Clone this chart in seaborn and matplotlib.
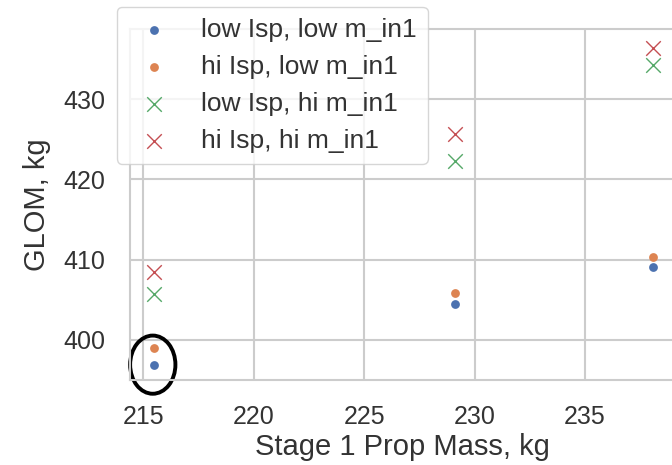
import numpy as np
import pandas as pd
import matplotlib
matplotlib.use('Agg')
import seaborn as sns
import matplotlib.pyplot as plt
from matplotlib.patches import Ellipse

sns.set_theme(style="whitegrid")
plt.rcParams['font.family'] = ['Liberation Sans', 'DejaVu Sans']

# stage 1 propellant mass for the three cases
prop_mass = [215.5, 229.1, 238.1]
labels = ["low Isp, low m_in1", "hi Isp, low m_in1",
          "low Isp, hi m_in1", "hi Isp, hi m_in1"]
glom_low_low = [396.8, 404.5, 409.1]
glom_hi_low = [399.0, 405.8, 410.3]
glom_low_hi = [405.7, 422.3, 434.3]
glom_hi_hi = [408.5, 425.7, 436.4]

series = [glom_low_low, glom_hi_low, glom_low_hi, glom_hi_hi]
markers = ["o", "o", "x", "x"]
sizes = [40, 40, 110, 110]
colors = sns.color_palette("deep")[:4]

fig = plt.figure(figsize=(6.72, 4.65), dpi=100)
ax = fig.add_axes([0.1935, 0.183, 0.81, 0.754])

for lab, vals, m, s, c in zip(labels, series, markers, sizes, colors):
    df = pd.DataFrame({"x": prop_mass, "y": vals})
    if m == "o":
        sns.scatterplot(data=df, x="x", y="y", ax=ax, marker=m, s=s,
                        color=c, linewidth=0, label=lab)
    else:
        sns.scatterplot(data=df, x="x", y="y", ax=ax, marker=m, s=s,
                        color=c, linewidth=1.0, label=lab)

ax.set_xlim(214.4, 239.05)
ax.set_ylim(395.0, 438.7)
ax.set_xticks([215, 220, 225, 230, 235])
ax.set_yticks([400, 410, 420, 430])
ax.tick_params(axis='x', labelsize=18, pad=12, colors='.2')
ax.tick_params(axis='y', labelsize=18, pad=12, colors='.2')
ax.set_xlabel("Stage 1 Prop Mass, kg", fontsize=21, color='.2', labelpad=3)
ax.set_ylabel("GLOM, kg", fontsize=21, color='.2', labelpad=9)
ax.grid(True, color='#cccccc', linewidth=1.5)
for sp in ax.spines.values():
    sp.set_color('#cccccc')
    sp.set_linewidth(1.5)
ax.spines['right'].set_visible(False)

leg = ax.legend(loc='upper left', bbox_to_anchor=(0.174, 0.985),
                bbox_transform=fig.transFigure, borderaxespad=0,
                fontsize=19, labelspacing=0.5, frameon=True)
for t in leg.get_texts():
    t.set_color('.2')

# circle around the baseline case
ax.add_patch(Ellipse((215.43, 396.9), width=2.05, height=7.25, fill=False,
                     edgecolor='black', linewidth=2.8, clip_on=False))

fig.savefig("out.png", dpi=100)
